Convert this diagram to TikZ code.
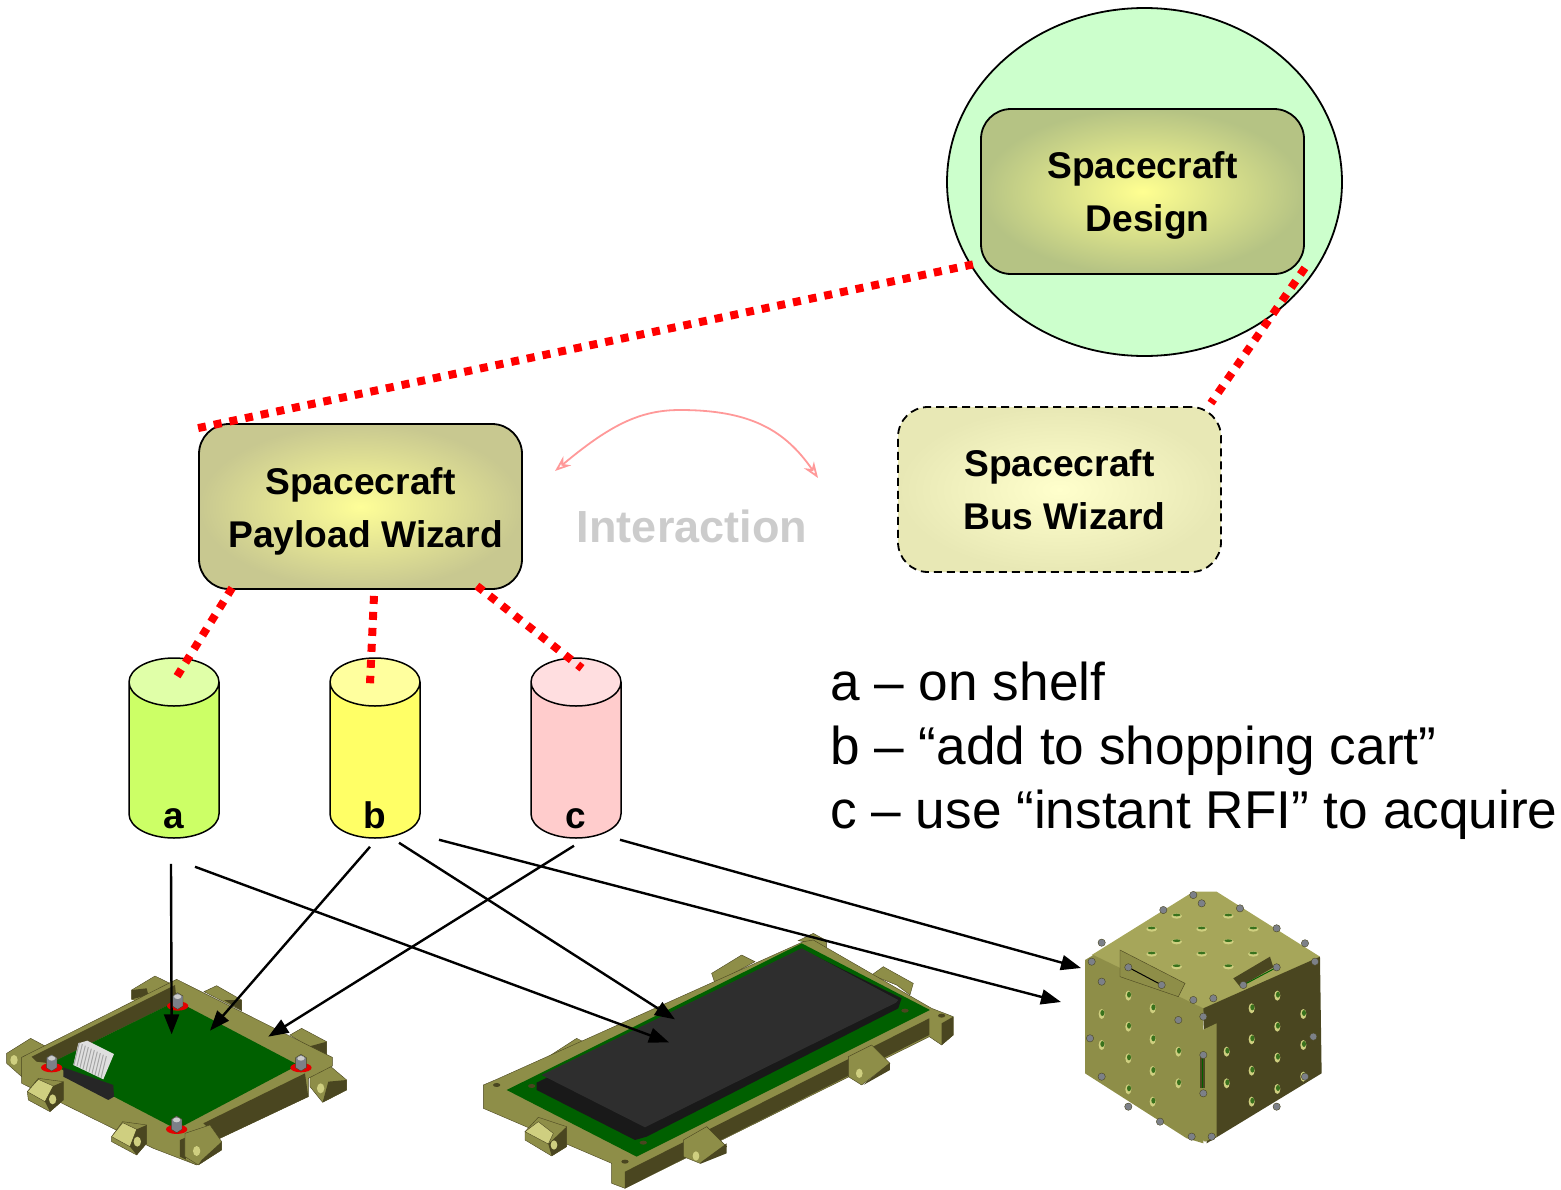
\documentclass[tikz,border=0pt]{standalone}
\usepackage{fontspec}
\setmainfont{Liberation Sans}
\usetikzlibrary{shapes.geometric,arrows.meta}
\usepackage{xcolor}
\definecolor{rimc}{HTML}{8E8E48}
\definecolor{wallc}{HTML}{4A4620}
\definecolor{lightc}{HTML}{CFCF80}
\definecolor{pcbc}{HTML}{006000}
\definecolor{cubetop}{HTML}{A6A65A}
\definecolor{screwc}{HTML}{7C8088}
\definecolor{designin}{HTML}{FFFF91}
\definecolor{designout}{HTML}{B5C384}
\definecolor{payloadin}{HTML}{FEFE98}
\definecolor{payloadout}{HTML}{C8C890}
\definecolor{busin}{HTML}{FFFFCC}
\definecolor{busout}{HTML}{E8E8B5}
\definecolor{cylabody}{HTML}{CCFF66}
\definecolor{cylatop}{HTML}{E0FFA8}
\definecolor{cylbbody}{HTML}{FFFF66}
\definecolor{cylbtop}{HTML}{FFFF9E}
\definecolor{cylcbody}{HTML}{FFCCCC}
\definecolor{cylctop}{HTML}{FFDEE0}
\newcommand{\wizlabel}[3]{\rule{0pt}{#3}#1\\\hspace*{10pt}#2}
\newcommand{\screw}[2]{
  \fill[red!90!black] (#1,#2+18) ellipse (32 and 14);
  \fill[screwc,draw=wallc,line width=0.4pt] (#1-16,#2-12) -- (#1,#2-22) -- (#1+16,#2-12) -- (#1+16,#2+18) -- (#1,#2+28) -- (#1-16,#2+18) -- cycle;
  \fill[gray!40] (#1,#2-10) ellipse (11 and 7);
}
\begin{document}
\begin{tikzpicture}[x=1pt,y=-1pt,
  wizard/.style={rectangle,rounded corners=30pt,draw,line width=1.8pt,minimum width=323pt,minimum height=165pt,inner sep=0pt,align=center,font=\fontsize{37.2}{53}\selectfont\bfseries},
  store/.style={cylinder,shape border rotate=90,aspect=2.4,anchor=shape center,draw,line width=1.5pt,minimum width=90pt,minimum height=180pt,inner sep=10pt,cylinder uses custom fill,cylinder body fill=#1body,cylinder end fill=#1top},
  storelabel/.style={anchor=base,font=\fontsize{37}{44}\selectfont\bfseries},
  linkline/.style={red,line width=8pt,dash pattern=on 8pt off 8pt},
  arrowline/.style={line width=2.4pt,-{Triangle[length=20pt,width=15pt]}},
  rim/.style={fill=rimc,draw=wallc,line width=0.4pt},wall/.style={fill=wallc},lit/.style={fill=lightc,draw=wallc,line width=0.4pt},pcb/.style={fill=pcbc}]
\useasboundingbox (0,0) rectangle (1561,1189);

\node[ellipse,draw,line width=1.8pt,fill=green!20!white,minimum width=395pt,minimum height=348pt,inner sep=0pt] (designback) at (1144.5,182) {};
\node[wizard,inner color=designin,outer color=designout] (design) at (1142.5,191.5) {\wizlabel{Spacecraft}{Design}{35pt}};
\node[wizard,inner color=payloadin,outer color=payloadout] (payload) at (360.5,506.5) {\wizlabel{Spacecraft}{Payload Wizard}{37pt}};
\node[wizard,dash pattern=on 8pt off 5pt,inner color=busin,outer color=busout] (bus) at (1059.5,489.5) {\wizlabel{Spacecraft}{Bus Wizard}{0pt}};

\node[store=cyla] (cyla) at (174,748) {};
\node[store=cylb] (cylb) at (375,748) {};
\node[store=cylc] (cylc) at (576,748) {};
\node[storelabel] (labela) at (174,828) {a};
\node[storelabel] (labelb) at (375,828) {b};
\node[storelabel] (labelc) at (576,828) {c};

\node[anchor=base,font=\fontsize{45}{54}\selectfont\bfseries,text=gray!40] (interact) at (692,542) {Interaction};
\node[anchor=north west,inner sep=0pt,align=left,font=\fontsize{53.2}{64}\selectfont] (legend) at (830,662) {a – on shelf\\b – “add to shopping cart”\\c – use “instant RFI” to acquire};

\coordinate (arcleft) at (555,471);
\coordinate (arcright) at (818,478);
\draw[red!40,line width=1.8pt,{Stealth[length=16pt,width=12pt,open]}-{Stealth[length=16pt,width=12pt,open]}] (arcleft) .. controls (610,425) and (640,410) .. (680,410) .. controls (750,410) and (785,430) .. (arcright);

% first board
\begin{scope}[shift={(0,940)},x=0.3333pt,y=-0.3333pt]
  \fill[rim] (395,178) -- (395,150) -- (465,108) -- (520,135) -- (420,185) -- cycle;
  \fill[rim] (612,155) -- (650,137) -- (725,180) -- (725,212) -- (680,190) -- cycle;
  \fill[rim] (870,285) -- (905,265) -- (980,305) -- (980,345) -- (925,320) -- cycle;
  \fill[rim] (20,340) -- (92,295) -- (135,318) -- (70,350) -- (65,410) -- (20,370) -- cycle;
  \fill[rim] (930,385) -- (975,365) -- (1040,420) -- (1040,450) -- (968,487) -- (930,440) -- cycle;
  \fill[wall] (395,178) -- (395,150) -- (440,145) -- (445,165) -- cycle;
  \fill[wall] (672,180) -- (725,180) -- (725,212) -- cycle;
  \fill[wall] (925,320) -- (980,305) -- (980,345) -- cycle;
  \fill[wall] (1040,420) -- (1040,450) -- (968,487) -- (985,425) -- cycle;
  \fill[rim] (65,352) -- (530,118) -- (997,352) -- (997,378) -- (925,415) -- (925,470) -- (660,595) -- (590,675) -- (460,625) -- (65,430) -- cycle;
  \fill[wall] (95,350) -- (110,365) -- (150,370) -- (530,183) -- (525,135) -- cycle;
  \fill[wall] (610,550) -- (915,400) -- (925,470) -- (660,595) -- cycle;
  \fill[pcb] (530,183) -- (895,375) -- (530,568) -- (150,370) -- cycle;
  \fill[wall] (540,600) -- (558,592) -- (558,660) -- (590,675) -- (540,650) -- cycle;
  \fill[rim] (555,580) -- (630,555) -- (665,605) -- (665,630) -- (595,675) -- (555,650) -- cycle;
  \fill[wall] (605,660) -- (665,605) -- (665,630) -- (595,675) -- cycle;
  \fill[rim] (82,455) -- (115,415) -- (190,425) -- (190,480) -- (150,515) -- (85,480) -- cycle;
  \fill[lit] (82,455) -- (115,418) -- (160,438) -- (135,485) -- cycle;
  \fill[wall] (135,485) -- (160,438) -- (190,425) -- (190,480) -- (150,515) -- cycle;
  \fill[rim] (335,590) -- (368,545) -- (440,555) -- (440,610) -- (410,645) -- (335,605) -- cycle;
  \fill[lit] (335,590) -- (368,548) -- (410,568) -- (390,620) -- cycle;
  \fill[wall] (390,620) -- (410,568) -- (440,555) -- (440,610) -- (410,645) -- cycle;
  \foreach \hx/\hy in {158/478,412/605,590/633,42/360,962/445}
    \fill[lightc] (\hx,\hy) ellipse (11 and 15);
  \screw{533}{180}
  \screw{155}{365}
  \screw{903}{365}
  \screw{530}{550}
  \fill[black!85] (190,382) -- (340,435) -- (342,470) -- (325,480) -- (190,410) -- cycle;
  \fill[gray!25] (220,375) -- (235,310) -- (262,302) -- (342,342) -- (310,418) -- cycle;
  \foreach \sx in {0,1,...,9}
    \draw[gray!70,line width=1pt] (238+\sx*9,308+\sx*4.5) -- (222+\sx*9,374+\sx*4.5);
  \coordinate (boarda) at (515,283);
  \coordinate (boardb) at (630,272);
  \coordinate (boardc) at (805,290);
\end{scope}

% second board
\begin{scope}[shift={(470,920)},x=0.3333pt,y=-0.3333pt]
  \fill[rim] (725,160) -- (815,105) -- (855,125) -- (735,190) -- cycle;
  \fill[rim] (1205,165) -- (1240,140) -- (1330,190) -- (1320,225) -- (1280,195) -- cycle;
  \fill[rim] (235,410) -- (320,355) -- (360,375) -- (240,435) -- cycle;
  \fill[rim] (985,62) -- (1030,40) -- (1070,62) -- (1070,90) -- (1030,70) -- cycle;
  \fill[rim] (40,495) -- (80,478) -- (1000,65) -- (1030,60) -- (1385,265) -- (1450,290) -- (1450,345) -- (1415,375) -- (1378,350) -- (465,805) -- (425,790) -- (425,730) -- (40,565) -- cycle;
  \fill[wall] (465,755) -- (1378,295) -- (1378,345) -- (465,805) -- cycle;
  \fill[wall] (1415,310) -- (1450,290) -- (1450,345) -- (1415,375) -- cycle;
  \fill[pcb] (110,510) -- (995,70) -- (1380,270) -- (500,710) -- cycle;
  \fill[black!90] (200,488) -- (1000,90) -- (1295,235) -- (1285,265) -- (530,650) -- (495,660) -- (200,510) -- cycle;
  \fill[black!82] (215,465) -- (995,85) -- (1285,240) -- (1278,248) -- (525,622) -- cycle;
  \fill[rim] (165,635) -- (205,592) -- (290,620) -- (290,680) -- (245,708) -- (165,660) -- cycle;
  \fill[lit] (165,635) -- (205,605) -- (250,640) -- (235,672) -- cycle;
  \fill[wall] (235,672) -- (290,620) -- (290,680) -- (245,708) -- cycle;
  \fill[rim] (640,660) -- (710,620) -- (770,680) -- (690,730) -- (640,710) -- cycle;
  \fill[wall] (695,725) -- (770,670) -- (770,700) -- (690,732) -- cycle;
  \fill[rim] (1135,410) -- (1205,375) -- (1260,430) -- (1175,495) -- (1135,470) -- cycle;
  \fill[wall] (1190,485) -- (1260,428) -- (1260,450) -- (1180,495) -- cycle;
  \foreach \hx/\hy in {252/675,678/708,1168/460}
    \fill[lightc] (\hx,\hy) ellipse (10 and 14);
  \foreach \hx/\hy in {80/495,465/725,1415/287,185/498,520/668,1305/272}
    \fill[wall] (\hx,\hy) ellipse (11 and 6);
  \coordinate (longa) at (597,367);
  \coordinate (longb) at (615,298);
\end{scope}

% cube
\begin{scope}[shift={(1060,880)},x=0.3333pt,y=-0.3333pt]
  \fill[cubetop] (95,225) -- (400,35) -- (470,35) -- (780,230) -- (440,395) -- (400,395) -- cycle;
  \fill[rimc] (75,240) -- (100,225) -- (430,385) -- (430,790) -- (380,775) -- (75,580) -- cycle;
  \fill[wall] (430,385) -- (780,230) -- (785,580) -- (440,790) -- cycle;
  \fill[rimc] (385,470) -- (470,430) -- (470,770) -- (435,785) -- (385,750) -- cycle;
  \fill[wall] (420,530) -- (436,530) -- (436,625) -- (420,625) -- cycle;
  \draw[pcbc,line width=1.5pt] (428,530) -- (428,625);
  \fill[rim] (180,210) -- (375,310) -- (355,350) -- (180,290) -- cycle;
  \draw[black,line width=1pt] (205,262) -- (305,315);
  \fill[wall] (520,295) -- (630,230) -- (640,262) -- (540,320) -- cycle;
  \draw[pcbc,line width=1pt] (550,315) -- (650,262);
  \foreach \hx/\hy in {350/108,505/108,275/147,425/147,580/147,350/185,505/185,275/222,425/222,580/222,350/260,505/260}{
    \fill[lightc] (\hx,\hy) ellipse (16 and 8);
    \fill[pcbc!60!rimc] (\hx,\hy-3) ellipse (12 and 4);
  }
  \foreach \hx/\hy in {205/347,278/385,125/402,205/440,278/478,125/495,205/535,278/573,355/515,355/610,205/628,278/665,652/347,575/385,730/402,652/440,575/478,500/515,730/495,652/533,575/572,500/610,652/627,575/665,730/590}{
    \fill[lightc] (\hx,\hy) ellipse (9 and 15);
    \fill[pcbc!60!rimc] (\hx+2,\hy-3) ellipse (6 and 9);
  }
  \foreach \hx/\hy in {95/245,125/188,310/90,400/45,540/85,650/145,735/190,765/245,760/470,90/475,125/590,205/680,300/725,395/770,455/770,650/680,735/590,205/262,305/315,400/360,460/355,550/315,650/262,430/410,430/525,430/640,125/305,355/420,425/70}
    \fill[screwc,draw=wallc,line width=0.4pt] (\hx,\hy) circle (11);
\end{scope}
\coordinate (cubeb) at (1061,1002);
\coordinate (cubec) at (1081,968);

\foreach \cyl/\fx/\fy/\to in {cyla/-3/-25/boarda,cyla/21/-28/longa,cylb/-5/-8/boardb,cylb/24/-4/longb,cylb/64/-1/cubeb,cylc/-2/-7/boardc,cylc/44/-1/cubec}
  \draw[arrowline] ([xshift=\fx pt,yshift=\fy pt]\cyl.south) -- (\to);

\draw[linkline] ([yshift=-5pt]payload.north west) -- ([yshift=12pt]design.south west);
\draw[linkline] ([yshift=7pt]design.south east) -- ([xshift=-11pt,yshift=3pt]bus.north east);
\draw[linkline] ([xshift=34pt,yshift=2pt]payload.south west) -- ([xshift=3pt,yshift=-19pt]cyla.north);
\draw[linkline] ([xshift=13.5pt,yshift=-6pt]payload.south) -- ([xshift=-5pt,yshift=-26pt]cylb.north);
\draw[linkline] ([xshift=-46pt,yshift=4pt]payload.south east) -- ([xshift=6pt,yshift=-11pt]cylc.north);
\end{tikzpicture}
\end{document}
